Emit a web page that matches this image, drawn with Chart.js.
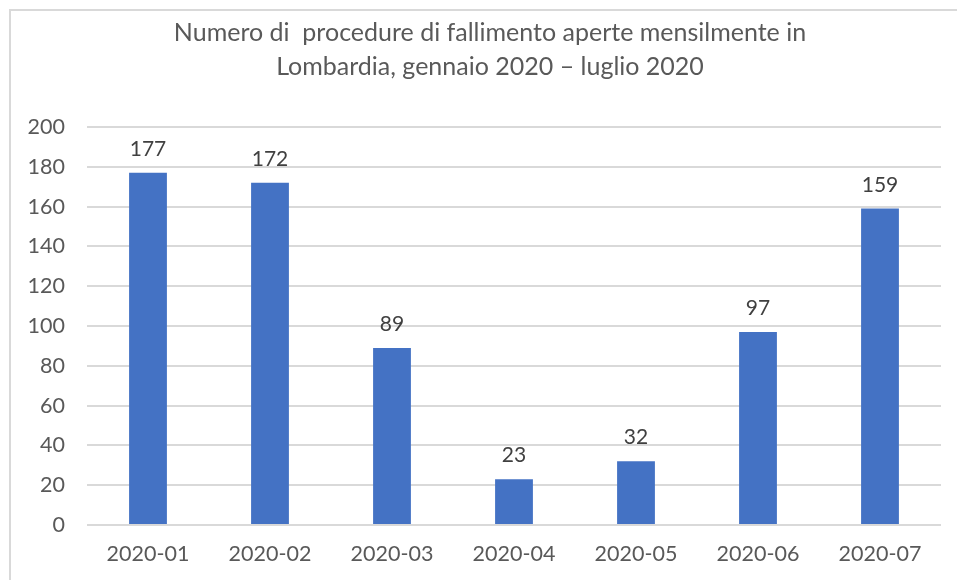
<!DOCTYPE html>
<html>
<head>
<meta charset="utf-8">
<script src="https://cdn.jsdelivr.net/npm/chart.js@4"></script>
<style>
  html, body { margin: 0; padding: 0; background: #fff; overflow: hidden; }
  #frame {
    position: absolute; left: 9px; top: 9px; width: 960px; height: 580px;
    border-left: 2px solid #d9d9d9; border-top: 2px solid #d9d9d9;
  }
  #wrap { position: absolute; left: 0; top: 0; width: 958px; height: 571px; }
</style>
</head>
<body>
<div id="frame"><div id="wrap"><canvas id="chart"></canvas></div></div>
<script>
// Dati
const months = ["2020-01", "2020-02", "2020-03", "2020-04", "2020-05", "2020-06", "2020-07"];
const procedures = [177, 172, 89, 23, 32, 97, 159];
const yTicks = [0, 20, 40, 60, 80, 100, 120, 140, 160, 180, 200];

const FONT = "Lato, 'Open Sans', sans-serif";

// Etichette sopra le barre
const valueLabels = {
    id: "valueLabels",
    afterDatasetsDraw(chart) {
        const { ctx } = chart;
        const meta = chart.getDatasetMeta(0);
        ctx.save();
        ctx.font = "21px " + FONT;
        ctx.fillStyle = "#404040";
        ctx.textAlign = "center";
        ctx.textBaseline = "alphabetic";
        meta.data.forEach((bar, i) => {
            ctx.fillText(String(chart.data.datasets[0].data[i]), bar.x, bar.y - 17);
        });
        ctx.restore();
    }
};

new Chart(document.getElementById("chart").getContext("2d"), {
    type: "bar",
    data: {
        labels: months,
        datasets: [{
            label: "Procedure",
            data: procedures,
            backgroundColor: "#4472C4",
            categoryPercentage: 1,
            barPercentage: 0.31
        }]
    },
    options: {
        responsive: true,
        maintainAspectRatio: false,
        animation: false,
        layout: { padding: 0 },
        plugins: {
            legend: { display: false },
            tooltip: { enabled: false },
            title: {
                display: true,
                text: ["Numero di  procedure di fallimento aperte mensilmente in", "Lombardia, gennaio 2020 \u2013 luglio 2020"],
                color: "#595959",
                font: { family: FONT, size: 25, weight: "normal", lineHeight: 1.36 },
                padding: { top: 5, bottom: 43 }
            }
        },
        scales: {
            x: {
                grid: { display: false, drawTicks: false },
                border: { display: false },
                ticks: { color: "#595959", font: { family: FONT, size: 21.5 }, padding: 16, maxRotation: 0 },
                afterFit(axis) { axis.height = 57; }
            },
            y: {
                min: 0,
                max: 200,
                afterBuildTicks(axis) { axis.ticks = yTicks.map(v => ({ value: v })); },
                grid: { color: "#d9d9d9", lineWidth: 2, drawTicks: false },
                border: { display: false },
                ticks: { color: "#595959", font: { family: FONT, size: 21.5 }, padding: 22 },
                afterFit(axis) { axis.width = 76; }
            },
            // asse vuoto a destra: solo per lasciare il margine come nell'originale
            yRight: {
                position: "right",
                min: 0,
                max: 200,
                grid: { display: false, drawTicks: false },
                border: { display: false },
                ticks: { display: false },
                afterFit(axis) { axis.width = 28; }
            }
        }
    },
    plugins: [valueLabels]
});
</script>
</body>
</html>
